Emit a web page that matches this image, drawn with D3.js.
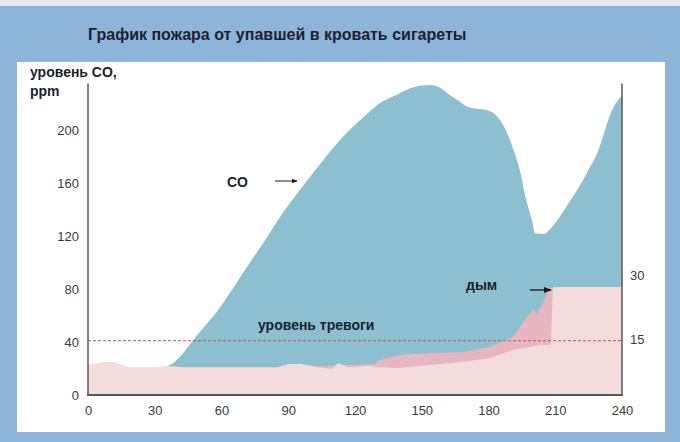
<!DOCTYPE html>
<html>
<head>
<meta charset="utf-8">
<script src="https://cdn.jsdelivr.net/npm/d3@7"></script>
<style>
  body { margin: 0; background: #ffffff; }
  svg { display: block; font-family: "Liberation Sans", Arial, sans-serif; }
</style>
</head>
<body>
<svg id="canvas"></svg>
<script>
// CO level, ppm (left scale)
let coTimes = [0, 20, 30, 35, 39, 43, 47, 52, 58, 63, 68, 74, 80, 87, 94, 100, 106, 112, 117, 124, 131, 138, 144, 150, 154, 158, 162, 166, 170, 175, 179, 184, 188, 191, 194, 197, 199.5, 201, 205, 207, 211, 215, 220, 225, 229, 232, 235, 238, 240];
let coValues = [18, 18, 19, 21, 25, 32, 41, 51, 63, 75, 88, 103, 118, 136, 152, 165, 178, 190, 199, 210, 220, 226, 231, 233.5, 234, 232, 227, 222.6, 218, 216, 215, 210, 199, 186, 170, 147, 132, 122, 121.5, 124, 132, 142, 155, 170, 183, 198, 213, 222, 226];

// smoke, upper (darker) layer
let smokeTimes = [0, 129, 131, 140, 154, 168.5, 180.7, 191, 194.2, 197.3, 200, 201.8, 204.5, 206.3, 207.6, 240];
let smokeValues = [15, 23.4, 26.4, 30.2, 31.7, 32.5, 36.2, 43.8, 51.3, 58.9, 64.2, 61.9, 69.4, 77, 80.8, 81.5];

// smoke, lower (light) layer
let baseTimes = [0, 7.6, 12.1, 18, 28.8, 34.6, 43.6, 66, 85.4, 89.9, 96.2, 103.4, 109.7, 112.4, 116.9, 125.8, 131.2, 138.9, 153.7, 168.5, 180.7, 191, 203.1, 208, 209, 240];
let baseValues = [22.6, 24.9, 24.9, 21, 21, 21.9, 21, 21, 21, 23.4, 23.4, 21, 19.6, 24.2, 21, 21.9, 21, 20.4, 22.6, 24.9, 27.9, 34, 37.7, 37.7, 81.5, 81.5];

let xTicks = [0, 30, 60, 90, 120, 150, 180, 210, 240];
let yTicks = [0, 40, 80, 120, 160, 200];
let smokeTicks = [15, 30];
let alarmLevel = 41;

let width = 680;
let height = 442;

let canvas = d3.select("#canvas");
canvas.attr("width", width);
canvas.attr("height", height);

let xScale = d3.scaleLinear().domain([0, 240]).range([88, 622]);
let yScale = d3.scaleLinear().domain([0, 235]).range([395, 83.6]);
let ySmoke = d3.scaleLinear().domain([0, 30]).range([yScale(-6), yScale(90)]);

let zip = (ts, vs) => ts.map((t, i) => ({ t: t, v: vs[i] }));

let drawFrame = () => {
  canvas.append("rect").attr("width", width).attr("height", height).attr("fill", "#8db4d9");
  canvas.append("rect").attr("width", width).attr("height", 6).attr("fill", "#e4ebf2");
  canvas.append("rect")
    .attr("x", 17).attr("y", 62)
    .attr("width", 648).attr("height", 370)
    .attr("fill", "#ffffff");

  canvas.append("text")
    .attr("x", 88).attr("y", 40)
    .attr("font-size", 16).attr("font-weight", "bold")
    .attr("fill", "#1b1f2e")
    .text("График пожара от упавшей в кровать сигареты");
};

let drawAreas = () => {
  let area = d3.area()
    .x((d) => xScale(d.t))
    .y0(yScale(0))
    .y1((d) => yScale(d.v));

  canvas.append("path")
    .datum(zip(coTimes, coValues))
    .attr("fill", "#8cbfd0")
    .attr("d", area.curve(d3.curveMonotoneX));

  canvas.append("path")
    .datum(zip(smokeTimes, smokeValues))
    .attr("fill", "#e7b6c1")
    .attr("d", area.curve(d3.curveLinear));

  canvas.append("path")
    .datum(zip(baseTimes, baseValues))
    .attr("fill", "#f4dbdc")
    .attr("d", area.curve(d3.curveLinear));

  canvas.append("line")
    .attr("x1", xScale(0)).attr("x2", xScale(240))
    .attr("y1", yScale(alarmLevel)).attr("y2", yScale(alarmLevel))
    .attr("stroke", "#c45860")
    .attr("stroke-opacity", 0.85)
    .attr("stroke-width", 1.3)
    .attr("stroke-dasharray", "3,2");
};

let drawAxes = () => {
  let xAxis = d3.axisBottom(xScale).tickValues(xTicks).tickSize(0).tickPadding(11);
  let yAxis = d3.axisLeft(yScale).tickValues(yTicks).tickSize(0).tickPadding(9);
  let rAxis = d3.axisRight(ySmoke).tickValues(smokeTicks).tickSize(0).tickPadding(8);

  let gx = canvas.append("g").attr("transform", "translate(0," + yScale(0) + ")").call(xAxis);
  let gy = canvas.append("g").attr("transform", "translate(" + xScale(0) + ",0)").call(yAxis);
  let gr = canvas.append("g").attr("transform", "translate(" + xScale(240) + ",0)").call(rAxis);

  [gx, gy, gr].forEach((g) => {
    g.select(".domain").remove();
    g.selectAll("text")
      .attr("font-family", "\"Liberation Sans\", Arial, sans-serif")
      .attr("font-size", 13)
      .attr("fill", "#3a3a3a");
  });

  // frame lines
  let frame = canvas.append("g").attr("stroke", "#585858").attr("fill", "none");
  frame.append("line")
    .attr("x1", xScale(0)).attr("x2", xScale(0))
    .attr("y1", yScale(235)).attr("y2", yScale(0) + 1)
    .attr("stroke-width", 1.5);
  frame.append("line")
    .attr("x1", xScale(240)).attr("x2", xScale(240))
    .attr("y1", yScale(235)).attr("y2", yScale(0) + 1)
    .attr("stroke-width", 1.5);
  frame.append("line")
    .attr("x1", xScale(0) - 1).attr("x2", xScale(240) + 1)
    .attr("y1", yScale(0)).attr("y2", yScale(0))
    .attr("stroke-width", 2);
};

let drawLabels = () => {
  canvas.append("defs").append("marker")
    .attr("id", "arrow")
    .attr("viewBox", "0 0 10 10")
    .attr("refX", 9).attr("refY", 5)
    .attr("markerWidth", 6).attr("markerHeight", 6)
    .attr("orient", "auto")
    .append("path")
    .attr("d", "M0,1L10,5L0,9Z")
    .attr("fill", "#1a1a1a");

  let label = (x, y, s) => {
    canvas.append("text")
      .attr("x", x).attr("y", y)
      .attr("font-size", 14).attr("font-weight", "bold")
      .attr("fill", "#1b1f2e")
      .text(s);
  };

  label(30, 77, "уровень CO,");
  label(30, 96, "ppm");
  label(227, 187, "CO");
  label(258, 330, "уровень тревоги");
  label(466, 290, "дым");

  canvas.append("line")
    .attr("x1", 275).attr("x2", 297).attr("y1", 181).attr("y2", 181)
    .attr("stroke", "#1a1a1a").attr("stroke-width", 1)
    .attr("marker-end", "url(#arrow)");
  canvas.append("line")
    .attr("x1", 530).attr("x2", 551).attr("y1", 290).attr("y2", 290)
    .attr("stroke", "#1a1a1a").attr("stroke-width", 1.3)
    .attr("marker-end", "url(#arrow)");
};

drawFrame();
drawAreas();
drawAxes();
drawLabels();
</script>
</body>
</html>
